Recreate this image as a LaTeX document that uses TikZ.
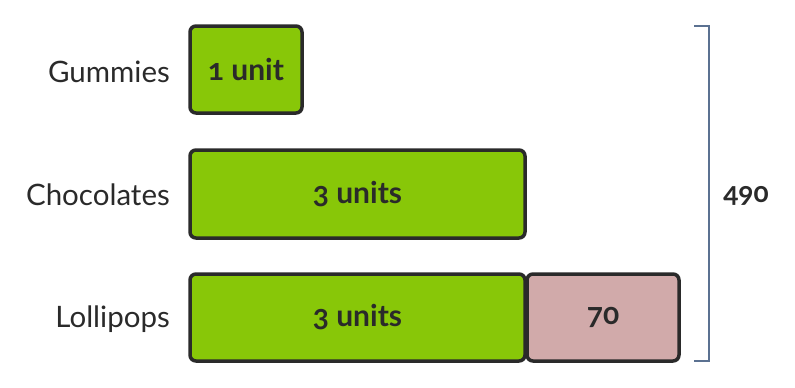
\documentclass[tikz,border=0pt]{standalone}
\usepackage{fontspec}
\setmainfont{Lato}[Numbers=OldStyle]
\definecolor{barg}{HTML}{88C708}
\definecolor{barp}{HTML}{D1AAAA}
\definecolor{edge}{HTML}{2A2A2A}
\definecolor{brk}{HTML}{5B7191}
\begin{document}
\begin{tikzpicture}[x=1pt,y=-1pt,
  bar/.style={draw=edge,line width=3.5pt,rounded corners=6pt,inner sep=0pt,text=edge,font=\fontsize{30}{34}\selectfont\bfseries},
  lbl/.style={anchor=east,text=edge,inner sep=0pt,font=\fontsize{29.5}{34}\selectfont}]
\useasboundingbox (0,0) rectangle (795,388);
\node[bar,fill=barg,minimum width=112pt,minimum height=87pt] (g) at (246,69.5) {1 unit};
\node[bar,fill=barg,minimum width=335pt,minimum height=88pt] (c) at (357.5,194) {3 units};
\node[bar,fill=barg,minimum width=335pt,minimum height=87pt] (l) at (357.5,317.5) {3 units};
\node[bar,fill=barp,minimum width=152pt,minimum height=87pt] (p) at (603,317.5) {70};
\node[lbl] (tg) at (170,72) {Gummies};
\node[lbl] (tc) at (170,195) {Chocolates};
\node[lbl] (tl) at (170,319) {Lollipops};
\coordinate (b1) at (694,26);
\coordinate (b2) at (709,26);
\coordinate (b3) at (709,361);
\coordinate (b4) at (694,361);
\draw[brk,line width=2.5pt] (b1) -- (b2) -- (b3) -- (b4);
\node[text=edge,font=\fontsize{28}{32}\selectfont\bfseries] (t) at (746,196) {490};
\end{tikzpicture}
\end{document}
